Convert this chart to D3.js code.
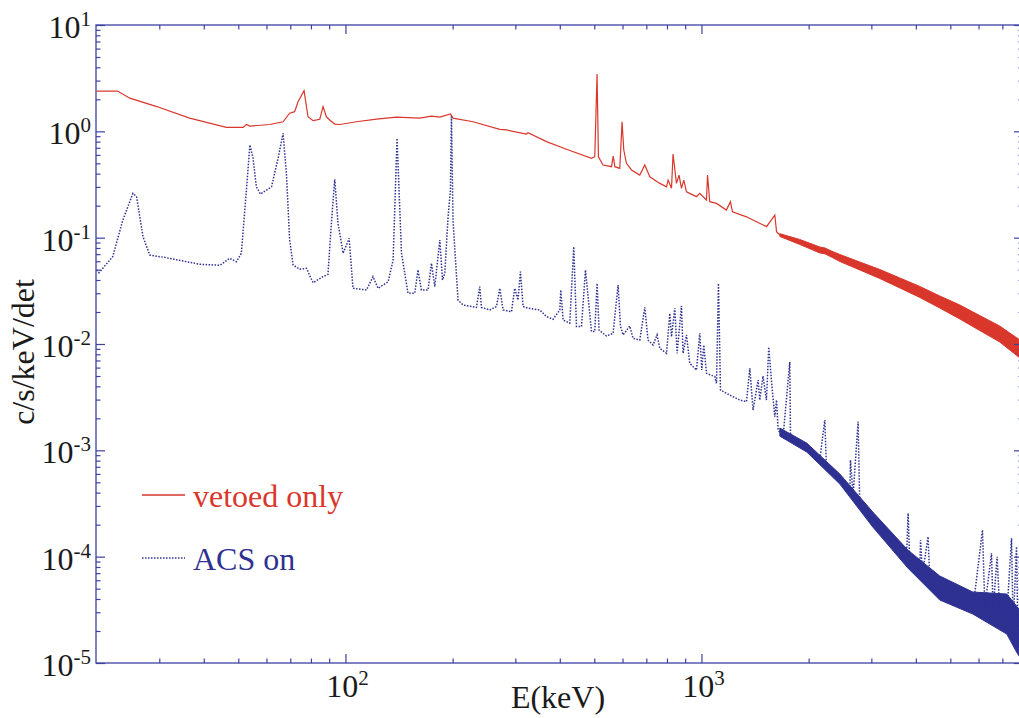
<!DOCTYPE html>
<html><head><meta charset="utf-8">
<script src="https://cdn.jsdelivr.net/npm/d3@7"></script>
<style>body{margin:0;background:#fff}svg{display:block}</style>
</head><body>
<svg id="chart" width="1019" height="718"></svg>
<script>
// ---- data (E in keV, rate in c/s/keV/det) ----
const vetoedE = [20,22.9,24.8,29.5,36.5,46.3,51.6,52.7,53.9,61.3,66.8,69.7,72.0,73.6,76.5,78.5,81.1,84.7,86.5,88.4,90.3,93.3,96.4,107.4,122.2,139.1,161.7,174.4,184.1,197.2,200.5,228.2,271.3,283.3,322.3,325.7,367,417.7,491,501.5,509,513.5,529,559,565,571,589.6,598.4,605,615.6,636,671,693,716,764,797.6,805.9,823.8,832,850.6,865,878.6,891.8,907.5,968,989,1033,1040,1055,1102,1175,1206,1222,1338,1427,1523,1607,1625,1660];
const vetoedV = [2.39,2.39,2.05,1.71,1.33,1.09,1.09,1.16,1.12,1.16,1.23,1.48,1.53,1.90,2.41,1.37,1.26,1.30,1.71,1.37,1.28,1.17,1.16,1.23,1.30,1.36,1.33,1.39,1.36,1.46,1.33,1.23,1.045,1.03,0.944,0.97,0.80,0.678,0.558,0.577,3.46,0.577,0.482,0.465,0.586,0.465,0.449,1.23,0.667,0.50,0.433,0.388,0.482,0.374,0.324,0.301,0.348,0.291,0.612,0.324,0.388,0.291,0.348,0.270,0.243,0.261,0.226,0.388,0.218,0.210,0.182,0.218,0.175,0.157,0.141,0.127,0.163,0.114,0.106];
// noisy high-energy part of "vetoed only": upper / lower envelope
const vetoedBandE  = [1660,1889,2150,2223,2316,2447,2785,3169,3606,4104,4670,5315,6048,6882,8000];
const vetoedBandHi = [0.109,0.0961,0.0817,0.0800,0.0749,0.0695,0.059,0.0502,0.0418,0.0348,0.0283,0.0233,0.0185,0.01476,0.0104];
const vetoedBandLo = [0.1026,0.0863,0.0718,0.0705,0.0658,0.0597,0.0497,0.0413,0.0337,0.0274,0.0218,0.0172,0.0134,0.01045,0.0070];

const acsE = [20,20.3,22.2,23.7,25.3,25.9,27.0,28.2,31.4,35.0,39.0,44.4,47.3,49.4,51.0,52.7,53.9,55.0,56.2,57.7,62.0,64.7,66.8,68.3,69.7,71.3,74.4,77.7,81.1,86.5,89.3,91.3,93.3,95.3,98.5,102.4,105.0,114.6,119.5,123.5,131.8,136.1,139.6,143.7,149.9,156.5,159.9,163.4,170.6,174.4,178.2,184.1,187.3,190.1,194.2,197.2,198.5,200.5,207.1,213.9,233.3,238.4,241,254.3,265.6,271.3,277.2,292.6,298.9,305.3,310.1,315.4,325.7,351.4,367,382.9,400,402.6,408.6,426.6,437.8,445.5,460.2,472.3,480.3,490.9,501.5,509,515.7,540.9,564.7,574.6,583.2,592.4,602.5,628.9,642.5,671,693,707.9,731,750.4,763.6,797.6,814.8,823.8,841.4,854.2,878.6,887.8,907.5,927,968.3,989,1002,1015,1033,1090,1102,1116,1131,1201,1281,1338,1367,1396,1442,1458,1489,1522,1545,1576,1607,1625,1642,1695,1770,1778,1849,1972,2149,2220,2245,2446,2610,2621,2666,2754,2784,3034,3236,3453,3766,3805,3847,4104,4123,4177,4330,4378,4670,5203,5794,6156,6250,6526,6594,6767,6886,7191,7428,7506,7670,7751,8000];
const acsV = [0.0497,0.0468,0.0662,0.1466,0.261,0.243,0.102,0.0687,0.0648,0.0603,0.0562,0.0550,0.064,0.0594,0.0713,0.281,0.744,0.561,0.301,0.257,0.301,0.561,0.958,0.388,0.095,0.0553,0.0504,0.0515,0.0377,0.0430,0.0452,0.1365,0.354,0.1365,0.0713,0.0986,0.0334,0.0322,0.0430,0.0334,0.0385,0.0617,0.860,0.0713,0.030,0.030,0.0497,0.0322,0.0322,0.0574,0.0346,0.095,0.040,0.0462,0.157,0.280,1.42,0.1466,0.0259,0.0233,0.0221,0.0346,0.0221,0.0209,0.0225,0.0334,0.0209,0.0201,0.0334,0.0259,0.0479,0.0225,0.0217,0.0209,0.0181,0.0171,0.0209,0.0322,0.0168,0.0157,0.0822,0.0146,0.0146,0.0497,0.0279,0.0131,0.0131,0.0372,0.0135,0.0119,0.0126,0.0224,0.0359,0.0146,0.01216,0.01476,0.0113,0.0109,0.0221,0.0109,0.00978,0.0122,0.00911,0.00817,0.0194,0.0117,0.0217,0.00817,0.0228,0.00817,0.01215,0.00658,0.00569,0.0126,0.00569,0.00978,0.0053,0.00493,0.00427,0.0372,0.00369,0.00331,0.00297,0.00287,0.0059,0.00239,0.00458,0.00297,0.0050,0.00297,0.00937,0.00411,0.00207,0.00297,0.00155,0.00134,0.00677,0.00145,0.00121,0.00104,0.00081,0.00193,0.000653,0.000526,0.000394,0.00081,0.00038,0.00186,0.000295,0.000221,0.000178,0.000134,0.0000971,0.000256,0.0000866,0.0000749,0.000143,0.0000697,0.000154,0.0000626,0.0000486,0.0000391,0.0000338,0.000178,0.0000338,0.0001075,0.0000315,0.0000999,0.0000293,0.0000254,0.000149,0.0000219,0.000124,0.0000153,0.0000119];
// noisy high-energy part of "ACS on": upper / lower envelope
const acsBandE  = [1660,1976,2447,3028,3798,4670,5781,7205,7670,8000];
const acsBandHi = [0.00162,0.00117,0.000599,0.000263,0.0001155,0.0000658,0.0000465,0.0000445,0.0000344,0.0000283];
const acsBandLo = [0.00136,0.000964,0.000482,0.00019,0.0000782,0.0000391,0.0000289,0.0000187,0.0000127,0.0000102];

const xMajorTicks = [100, 1000];
const xMinorTicks = [30,40,50,60,70,80,90,200,300,400,500,600,700,800,900,2000,3000,4000,5000,6000,7000];
const yExponents = [1,0,-1,-2,-3,-4,-5];
const seriesNames = ["vetoed only", "ACS on"];
const xTitle = "E(keV)";
const yTitle = "c/s/keV/det";

// ---- layout / style ----
const RED = "#d9372c", BLUE = "#2e3192", AXIS = "#3d41a0";
const FONT = "'Liberation Serif','Times New Roman',serif";
const L = 96, R = 1023, T = 25, B = 663;

const svg = d3.select("#chart");
const x = d3.scaleLog().domain([20, 8000]).range([96.6, 1023]);
const y = d3.scaleLog().domain([1e-5, 10]).range([B, T]);

svg.append("defs").append("clipPath").attr("id","clip")
  .append("rect").attr("x",L).attr("y",T).attr("width",R-L).attr("height",B-T);
const plot = svg.append("g").attr("clip-path","url(#clip)");

const zip = (E, V) => E.map((e,i)=>({e, v:V[i]}));
const zipBand = (E, H, Lo) => E.map((e,i)=>({e, hi:H[i], lo:Lo[i]}));
const line = d3.line().x(d=>x(d.e)).y(d=>y(d.v));
const area = d3.area().x(d=>x(d.e)).y0(d=>y(d.lo)).y1(d=>y(d.hi));

// ACS on
plot.append("path").datum(zipBand(acsBandE, acsBandHi, acsBandLo))
  .attr("d", area).attr("fill", BLUE).attr("stroke", BLUE).attr("stroke-width", 1);
plot.append("path").datum(zip(acsE, acsV))
  .attr("d", line).attr("fill","none").attr("stroke", BLUE)
  .attr("stroke-width", 1.5).attr("stroke-dasharray","1.5,1.5");

// vetoed only
plot.append("path").datum(zipBand(vetoedBandE, vetoedBandHi, vetoedBandLo))
  .attr("d", area).attr("fill", RED).attr("stroke", RED).attr("stroke-width", 1);
plot.append("path").datum(zip(vetoedE, vetoedV))
  .attr("d", line).attr("fill","none").attr("stroke", RED).attr("stroke-width", 1.2);

// ---- axes (ticks point inward on all sides) ----
const yMajor = yExponents.map(p => Math.pow(10, p));
const yMinor = [];
yExponents.slice(1).forEach(p => { for (let k=2;k<=9;k++) yMinor.push(k*Math.pow(10,p)); });

function styleAxis(g){
  g.selectAll("path.domain").remove();
  g.selectAll(".tick line").attr("stroke", AXIS).attr("stroke-width", 1.2);
  g.selectAll(".tick text").remove();
}
svg.append("g").attr("transform",`translate(${L},0)`)
  .call(d3.axisLeft(y).tickValues(yMajor).tickSize(-9).tickSizeOuter(0)).call(styleAxis);
svg.append("g").attr("transform",`translate(${L},0)`)
  .call(d3.axisLeft(y).tickValues(yMinor).tickSize(-4.5).tickSizeOuter(0)).call(styleAxis);
svg.append("g").attr("transform",`translate(${R},0)`)
  .call(d3.axisRight(y).tickValues(yMajor).tickSize(-9).tickSizeOuter(0)).call(styleAxis);
svg.append("g").attr("transform",`translate(${R},0)`)
  .call(d3.axisRight(y).tickValues(yMinor).tickSize(-4.5).tickSizeOuter(0)).call(styleAxis);
svg.append("g").attr("transform",`translate(0,${B})`)
  .call(d3.axisBottom(x).tickValues(xMajorTicks).tickSize(-9).tickSizeOuter(0)).call(styleAxis);
svg.append("g").attr("transform",`translate(0,${B})`)
  .call(d3.axisBottom(x).tickValues(xMinorTicks).tickSize(-4.5).tickSizeOuter(0)).call(styleAxis);
svg.append("g").attr("transform",`translate(0,${T})`)
  .call(d3.axisTop(x).tickValues(xMajorTicks).tickSize(-9).tickSizeOuter(0)).call(styleAxis);
svg.append("g").attr("transform",`translate(0,${T})`)
  .call(d3.axisTop(x).tickValues(xMinorTicks).tickSize(-4.5).tickSizeOuter(0)).call(styleAxis);

// frame
svg.append("rect").attr("x",L).attr("y",T).attr("width",R-L).attr("height",B-T)
  .attr("fill","none").attr("stroke",AXIS).attr("stroke-width",1.3);

// tick labels 10^n
function powLabel(sel, p){
  sel.append("tspan").text("10");
  sel.append("tspan").attr("dy",-12).attr("font-size",21).text(String(p));
}
yExponents.forEach(p => {
  svg.append("text").attr("x", 91).attr("y", y(Math.pow(10,p)) + 13)
    .attr("text-anchor","end").attr("font-family",FONT).attr("font-size",32).attr("fill","#1a1a1a")
    .call(powLabel, p);
});
xMajorTicks.forEach(v => {
  svg.append("text").attr("x", x(v) + 2).attr("y", 697)
    .attr("text-anchor","middle").attr("font-family",FONT).attr("font-size",32).attr("fill","#1a1a1a")
    .call(powLabel, Math.round(Math.log10(v)));
});

// axis titles
svg.append("text").attr("x", 558).attr("y", 708).attr("text-anchor","middle")
  .attr("font-family",FONT).attr("font-size",32).attr("fill","#1a1a1a").text(xTitle);
svg.append("text").attr("transform","translate(34,352) rotate(-90)").attr("text-anchor","middle")
  .attr("font-family",FONT).attr("font-size",32).attr("fill","#1a1a1a").text(yTitle);

// legend
const legend = [
  {name: seriesNames[0], color: RED, dash: null, ly: 495, ty: 507},
  {name: seriesNames[1], color: BLUE, dash: "1.5,1.5", ly: 558, ty: 570}
];
legend.forEach(d => {
  svg.append("line").attr("x1",142).attr("x2",185).attr("y1",d.ly).attr("y2",d.ly)
    .attr("stroke",d.color).attr("stroke-width",1.3).attr("stroke-dasharray",d.dash);
  svg.append("text").attr("x",193).attr("y",d.ty).attr("font-family",FONT).attr("font-size",32)
    .attr("fill",d.color).text(d.name);
});
</script>
</body></html>
